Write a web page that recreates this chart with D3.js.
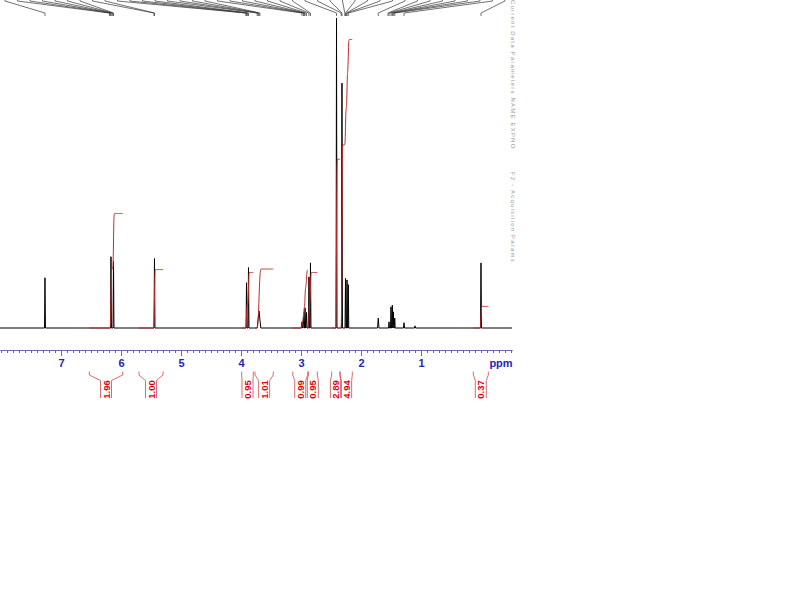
<!DOCTYPE html>
<html>
<head>
<meta charset="utf-8">
<script src="https://cdn.jsdelivr.net/npm/d3@7"></script>
<style>
  body { margin: 0; background: #fff; }
</style>
</head>
<body>
<div id="chart"></div>
<script>
(function () {

  // Spectrum peaks (ppm, relative height, half width in ppm)
  const peakPpm    = [7.267, 6.167, 6.125, 5.442, 3.908, 3.875, 3.70, 2.983, 2.958, 2.933, 2.908, 2.867, 2.842, 2.408, 2.317, 2.258, 2.233, 2.212, 1.712, 1.533, 1.50, 1.478, 1.462, 1.438, 1.283, 1.10, 0.0]
  const peakHeight = [16.2, 23.0, 21.5, 22.4, 14.6, 19.5, 5.5, 2.0, 4.0, 6.5, 5.0, 16.5, 21.0, 100, 79, 16, 15.5, 14, 3.2, 2.0, 6.8, 7.4, 5.2, 3.2, 1.7, 0.7, 21]
  const peakWidth  = [0.008, 0.008, 0.008, 0.008, 0.008, 0.008, 0.03, 0.01, 0.01, 0.01, 0.01, 0.008, 0.008, 0.008, 0.008, 0.008, 0.008, 0.008, 0.012, 0.008, 0.008, 0.008, 0.008, 0.008, 0.01, 0.01, 0.008]

  // Picked peaks (labels sit above the visible area, only their lines show)
  const pickedPpm = [7.267, 6.19, 6.18, 6.167, 6.15, 6.135, 6.125, 5.45, 5.442,
    3.92, 3.908, 3.89, 3.875, 3.73, 3.715, 3.70, 3.685,
    2.983, 2.958, 2.945, 2.933, 2.908, 2.867, 2.842,
    2.408, 2.33, 2.317, 2.27, 2.258, 2.245, 2.233, 2.212,
    1.712, 1.55, 1.533, 1.50, 1.478, 1.462, 1.438, 1.283, 0.0]

  // Integrals
  const integralFrom  = [6.528, 5.70, 3.988, 3.767, 3.138, 2.878, 2.488, 2.35, 0.128]
  const integralTo    = [5.972, 5.30, 3.795, 3.462, 2.888, 2.728, 2.35, 2.145, -0.122]
  const integralValue = [1.96, 1.00, 0.95, 1.01, 0.99, 0.95, 2.89, 4.94, 0.37]

  // Axis
  const majorTicks = [7, 6, 5, 4, 3, 2, 1]
  const ppmLeft = 8.0167
  const ppmRight = -0.5167

  const svg = d3.select("#chart").append("svg")
    .attr("width", 800)
    .attr("height", 599)
    .style("font-family", "'Liberation Sans', Arial, sans-serif")

  const x = d3.scaleLinear().domain([ppmLeft, ppmRight]).range([0, 512])
  const y = d3.scaleLinear().domain([0, 100]).range([328, 18])
  const yInt = d3.scaleLinear().domain([0, 5]).range([328, 36])

  // Build spectrum polyline from the peak table
  const order = d3.range(peakPpm.length).sort((a, b) => peakPpm[b] - peakPpm[a])
  const pts = [[ppmLeft, 0]]
  order.forEach(i => {
    pts.push([peakPpm[i] + peakWidth[i], 0])
    pts.push([peakPpm[i], peakHeight[i]])
    pts.push([peakPpm[i] - peakWidth[i], 0])
  })
  pts.push([ppmRight, 0])

  const asc = pts.slice().reverse()
  const bis = d3.bisector(d => d[0]).left
  function intensityAt(p) {
    const i = bis(asc, p)
    if (i <= 0) return asc[0][1]
    if (i >= asc.length) return asc[asc.length - 1][1]
    const a = asc[i - 1], b = asc[i]
    const t = (p - a[0]) / (b[0] - a[0] || 1)
    return a[1] + t * (b[1] - a[1])
  }

  svg.append("path")
    .datum(pts)
    .attr("fill", "none")
    .attr("stroke", "#000")
    .attr("stroke-width", 1)
    .attr("d", d3.line().x(d => x(d[0])).y(d => y(d[1])))

  // Integral curves
  const intLine = d3.line().x(d => x(d[0])).y(d => yInt(d[1])).curve(d3.curveBasis)
  integralValue.forEach((v, k) => {
    const step = 0.002
    const cum = [[integralFrom[k], 0]]
    let total = 0
    for (let p = integralFrom[k]; p - step >= integralTo[k] - 1e-9; p -= step) {
      total += intensityAt(p - step / 2) * step
      cum.push([p - step, total])
    }
    const curve = cum.filter((d, i) => i % 4 == 0 || i == cum.length - 1)
      .map(d => [d[0], v * d[1] / total])
    svg.append("path")
      .datum(curve)
      .attr("fill", "none")
      .attr("stroke", "#c62828")
      .attr("stroke-width", 1)
      .attr("d", intLine)
  })

  // Peak pick lines at the top
  const labelX = d3.scalePoint().domain(d3.range(pickedPpm.length)).range([5, 505])
  svg.append("g").selectAll("path")
    .data(pickedPpm)
    .join("path")
    .attr("fill", "none")
    .attr("stroke", "#333")
    .attr("stroke-width", 0.7)
    .attr("d", (d, i) => `M${labelX(i)},-10L${labelX(i)},1L${x(d)},13L${x(d)},16`)

  // Axis
  const minorTicks = d3.range(-5, 81).map(i => i / 10)
  const axisG = svg.append("g").attr("transform", "translate(0,350)")
  axisG.append("g")
    .call(d3.axisBottom(x).tickValues(minorTicks).tickSize(3).tickSizeOuter(0).tickFormat(""))
  axisG.append("g")
    .call(d3.axisBottom(x).tickValues(majorTicks).tickSize(6).tickSizeOuter(0).tickPadding(3).tickFormat(d3.format("d")))
  axisG.selectAll("path, line").attr("stroke", "#6a6ab4")
  axisG.selectAll("text")
    .attr("fill", "#2424b8")
    .attr("font-weight", "bold")
    .attr("font-size", 11)
    .attr("font-family", "'Liberation Sans', Arial, sans-serif")
  axisG.append("text")
    .attr("x", 501)
    .attr("y", 9)
    .attr("dy", "0.71em")
    .attr("text-anchor", "middle")
    .attr("fill", "#2424b8")
    .attr("font-weight", "bold")
    .attr("font-size", 11)
    .text("ppm")

  // Integral labels below the axis
  const labG = svg.append("g")
  integralValue.forEach((v, k) => {
    const x0 = x(integralFrom[k]), x1 = x(integralTo[k])
    const cx = (x0 + x1) / 2
    const hw = 5.5
    labG.append("path")
      .attr("fill", "none")
      .attr("stroke", "#d04848")
      .attr("stroke-width", 0.8)
      .attr("d", `M${x0},371.5L${x0},375L${cx - hw},380.5L${cx - hw},398` +
                 `M${x1},371.5L${x1},375L${cx + hw},380.5L${cx + hw},398`)
    labG.append("text")
      .attr("transform", `translate(${cx},389.5) rotate(-90)`)
      .attr("text-anchor", "middle")
      .attr("dominant-baseline", "central")
      .attr("fill", "#e00010")
      .attr("font-size", 9.5)
      .attr("font-weight", "bold")
      .text(v.toFixed(2))
  })

  // Parameter text column on the right edge (rotated, mostly cut off)
  const sideText = ["Current Data Parameters NAME EXPNO", "F2 - Acquisition Params"]
  const sideY = [0, 172]
  sideText.forEach((t, i) => {
    svg.append("text")
      .attr("transform", `translate(511,${sideY[i]}) rotate(90)`)
      .attr("fill", "#999")
      .attr("font-size", 6)
      .attr("letter-spacing", 1.2)
      .text(t)
  })

})();
</script>
</body>
</html>
